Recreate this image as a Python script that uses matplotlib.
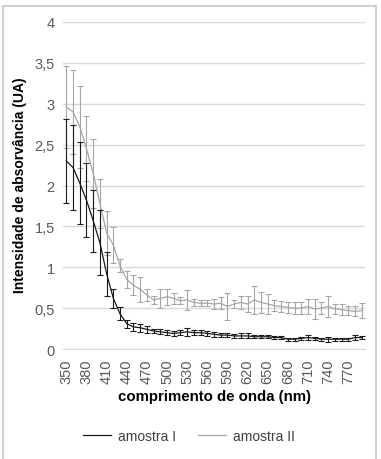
import numpy as np
import matplotlib
matplotlib.use("Agg")
import matplotlib.pyplot as plt
from matplotlib.lines import Line2D

# comprimento de onda (nm)
wavelengths = list(range(350, 800, 10))

amostra_1 = [2.30, 2.22, 2.03, 1.82, 1.57, 1.30, 0.92, 0.62, 0.43, 0.31,
             0.27, 0.26, 0.24, 0.22, 0.21, 0.20, 0.19, 0.20, 0.21, 0.20,
             0.20, 0.19, 0.18, 0.17, 0.17, 0.16, 0.16, 0.16, 0.15, 0.15,
             0.15, 0.14, 0.14, 0.12, 0.12, 0.13, 0.14, 0.13, 0.12, 0.12,
             0.12, 0.12, 0.12, 0.14, 0.14]
erro_1 = [0.51, 0.52, 0.50, 0.45, 0.38, 0.40, 0.27, 0.12, 0.08, 0.05,
          0.05, 0.05, 0.04, 0.03, 0.03, 0.03, 0.03, 0.03, 0.05, 0.03,
          0.03, 0.03, 0.03, 0.02, 0.02, 0.02, 0.03, 0.03, 0.02, 0.02,
          0.02, 0.02, 0.02, 0.02, 0.02, 0.02, 0.03, 0.02, 0.02, 0.03,
          0.02, 0.02, 0.02, 0.03, 0.02]

amostra_2 = [2.96, 2.90, 2.72, 2.45, 2.15, 1.78, 1.42, 1.27, 1.02, 0.85,
             0.78, 0.73, 0.66, 0.60, 0.62, 0.64, 0.62, 0.59, 0.60, 0.57,
             0.56, 0.56, 0.55, 0.56, 0.52, 0.55, 0.57, 0.55, 0.60, 0.57,
             0.55, 0.53, 0.52, 0.51, 0.50, 0.50, 0.52, 0.49, 0.50, 0.52,
             0.49, 0.48, 0.47, 0.46, 0.47]
erro_2 = [0.50, 0.51, 0.50, 0.40, 0.42, 0.30, 0.27, 0.22, 0.08, 0.10,
          0.12, 0.15, 0.07, 0.05, 0.12, 0.10, 0.07, 0.04, 0.12, 0.04,
          0.04, 0.04, 0.06, 0.07, 0.17, 0.05, 0.08, 0.10, 0.17, 0.13,
          0.12, 0.07, 0.07, 0.07, 0.07, 0.07, 0.09, 0.12, 0.07, 0.13,
          0.06, 0.07, 0.06, 0.06, 0.09]

y_ticks = [0, 0.5, 1, 1.5, 2, 2.5, 3, 3.5, 4]
y_labels = ["0", "0,5", "1", "1,5", "2", "2,5", "3", "3,5", "4"]

plt.rcParams["font.family"] = ["Liberation Sans", "DejaVu Sans"]

W, H = 381, 460
fig = plt.figure(figsize=(W / 100, H / 100), dpi=100)

# chart area border
for xs, ys in [([3, 376], [7, 7]), ([3, 3], [7, 470]), ([376, 376], [7, 470])]:
    fig.add_artist(Line2D([x / W for x in xs], [1 - y / H for y in ys],
                          color="#d0d0d0", lw=1.5))

ax = fig.add_axes([63 / W, 1 - 350 / H, 302 / W, 327 / H])
x = np.arange(len(wavelengths))

ax.errorbar(x, amostra_2, yerr=erro_2, color="#a6a6a6", lw=0.9,
            elinewidth=0.8, capsize=2.2, capthick=0.8, zorder=3)
ax.errorbar(x, amostra_1, yerr=erro_1, color="#1a1a1a", lw=0.9,
            elinewidth=0.8, capsize=2.2, capthick=0.8, zorder=4)

ax.set_xlim(-0.5, len(wavelengths) - 0.5)
ax.set_ylim(0, 4)
ax.set_yticks(y_ticks)
ax.set_yticklabels(y_labels)
ax.set_xticks(x[::3])
ax.set_xticklabels([str(w) for w in wavelengths[::3]], rotation=90)
ax.tick_params(length=0, labelsize=10.5, colors="#595959", pad=6)
ax.tick_params(axis="x", pad=7)
ax.grid(axis="y", color="#d9d9d9", lw=1)
ax.set_axisbelow(True)
for s in ["left", "right", "top"]:
    ax.spines[s].set_visible(False)
ax.spines["bottom"].set_color("#d9d9d9")

fig.text(20 / W, 1 - 185 / H, "Intensidade de absorvância (UA)", rotation=90,
         ha="center", va="center", fontsize=10, fontweight="bold")
fig.text(215 / W, 1 - 397 / H, "comprimento de onda (nm)",
         ha="center", va="center", fontsize=10.8, fontweight="bold")

handles = [Line2D([], [], color="#1a1a1a", lw=0.9),
           Line2D([], [], color="#a6a6a6", lw=0.9)]
fig.legend(handles, ["amostra I", "amostra II"], loc="center",
           bbox_to_anchor=(189 / W, 1 - 437 / H), ncol=2, frameon=False,
           fontsize=10, handlelength=2.0, handletextpad=0.5,
           columnspacing=1.6, labelcolor="#404040")

fig.savefig("out.png", dpi=100)
